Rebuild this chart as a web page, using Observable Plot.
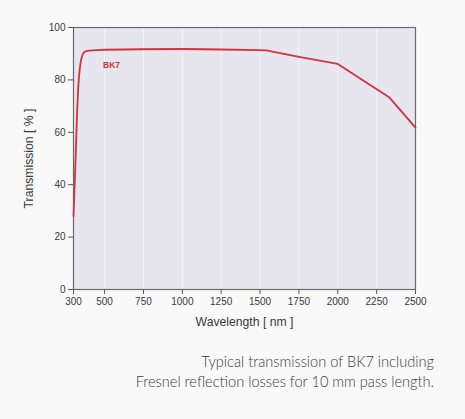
<!DOCTYPE html>
<html>
<head>
<meta charset="utf-8">
<script src="https://cdn.jsdelivr.net/npm/d3@7"></script>
<script src="https://cdn.jsdelivr.net/npm/@observablehq/plot@0.6"></script>
<style>
  html, body { margin: 0; padding: 0; background: #f9f9f9; }
  #chart { width: 465px; height: 340px; }
  #caption {
    width: 434px;
    text-align: right;
    font-family: Lato, "DejaVu Sans", sans-serif;
    font-weight: 300;
    font-size: 14.6px;
    line-height: 20px;
    color: #3a3a3a;
    margin-top: 12px;
  }
</style>
</head>
<body>
<div id="chart"></div>
<div id="caption">Typical transmission of BK7 including<br>Fresnel reflection losses for 10 mm pass length.</div>
<script>
const wavelength = [300, 305, 310, 315, 320, 325, 330, 335, 340, 345, 350, 355, 360, 365, 372, 380, 390, 400, 450, 500, 750, 1000, 1250, 1500, 1540, 1750, 2000, 2330, 2500];
const transmission = [28, 36, 44, 53, 62, 70, 76.5, 81, 84, 86.3, 87.9, 89, 89.8, 90.3, 90.7, 90.95, 91.1, 91.2, 91.4, 91.5, 91.7, 91.8, 91.6, 91.4, 91.3, 88.8, 86.1, 73.4, 61.8];
const xTicks = [300, 500, 750, 1000, 1250, 1500, 1750, 2000, 2250, 2500];
const yTicks = [0, 20, 40, 60, 80, 100];
const seriesLabel = "BK7";

const data = wavelength.map((w, i) => ({w, t: transmission[i]}));

const chart = Plot.plot({
  width: 465,
  height: 340,
  marginLeft: 73,
  marginRight: 50,
  marginTop: 27,
  marginBottom: 51,
  style: {background: "transparent", fontFamily: "'Liberation Sans', Arial, sans-serif", fontSize: "10px", color: "#3a3a3a"},
  x: {domain: [300, 2500]},
  y: {domain: [0, 100]},
  marks: [
    Plot.frame({fill: "#e7e5ee", stroke: null}),
    Plot.gridX(xTicks, {stroke: "#ffffff", strokeOpacity: 0.55}),
    Plot.axisX(xTicks, {tickSize: 5, tickPadding: 3, tickFormat: d => String(d), label: "Wavelength [ nm ]", labelAnchor: "center", labelArrow: "none", labelOffset: 36, stroke: "#555"}),
    Plot.axisY(yTicks, {tickSize: 5, tickPadding: 3, tickFormat: d => String(d), label: "Transmission [ % ]", labelAnchor: "center", labelArrow: "none", labelOffset: 49, stroke: "#555"}),
    Plot.frame({stroke: "#6a6a6a", strokeWidth: 1.2}),
    Plot.line(data, {x: "w", y: "t", curve: "linear", stroke: "#d3323f", strokeWidth: 1.8}),
    Plot.text([seriesLabel], {x: 545, y: 85.5, text: d => d, fill: "#d3323f", fontWeight: "bold", fontSize: 8.5})
  ]
});
chart.querySelectorAll("g[aria-label='x-axis label'] text, g[aria-label='y-axis label'] text").forEach(t => { t.style.fontSize = "12.2px"; });
document.getElementById("chart").append(chart);
</script>
</body>
</html>
